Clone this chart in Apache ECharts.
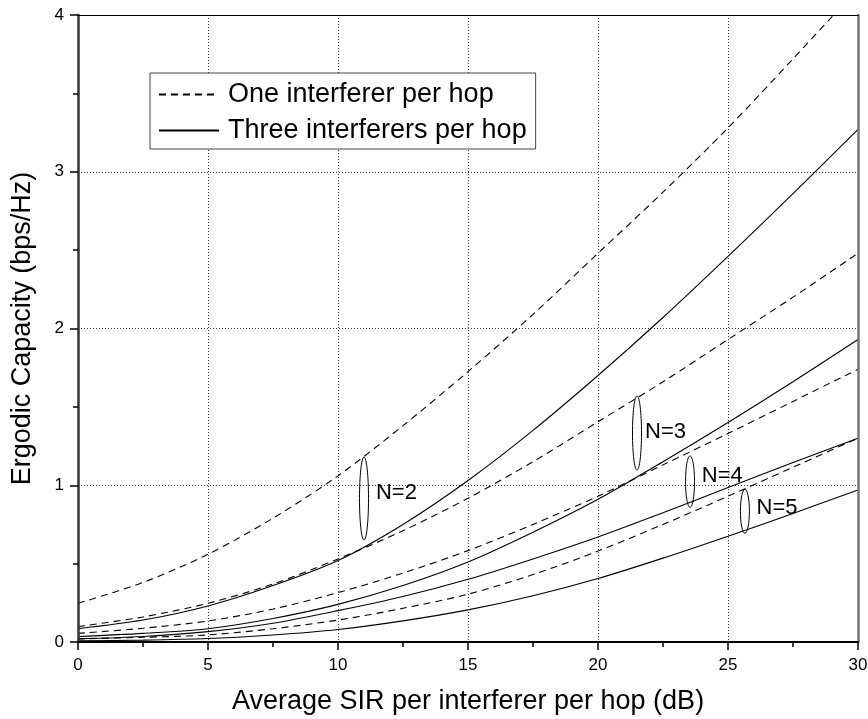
<!DOCTYPE html>
<html>
<head>
<meta charset="utf-8">
<script src="https://cdn.jsdelivr.net/npm/echarts@6/dist/echarts.min.js"></script>
<style>
  html, body { margin: 0; padding: 0; background: #fff; }
  #chart { width: 868px; height: 719px; }
</style>
</head>
<body>
<div id="chart"></div>
<script>
// Average SIR per interferer per hop (dB)
const sir = [0, 2.5, 5, 7.5, 10, 12.5, 15, 17.5, 20, 22.5, 25, 27.5, 30];

// Ergodic capacity (bps/Hz), one interferer per hop, N = 2..5 hops
const oneN2 = [0.247, 0.38, 0.56, 0.79, 1.06, 1.38, 1.725, 2.09, 2.48, 2.87, 3.28, 3.72, 4.17];
const oneN3 = [0.098, 0.16, 0.247, 0.37, 0.53, 0.71, 0.917, 1.15, 1.405, 1.66, 1.93, 2.2, 2.48];
const oneN4 = [0.055, 0.088, 0.134, 0.21, 0.315, 0.44, 0.583, 0.75, 0.93, 1.13, 1.33, 1.535, 1.74];
const oneN5 = [0.02, 0.03, 0.045, 0.085, 0.14, 0.215, 0.305, 0.43, 0.58, 0.75, 0.93, 1.115, 1.30];

// Ergodic capacity (bps/Hz), three interferers per hop, N = 2..5 hops
const threeN2 = [0.085, 0.14, 0.23, 0.36, 0.52, 0.75, 1.03, 1.35, 1.70, 2.07, 2.46, 2.86, 3.27];
const threeN3 = [0.035, 0.055, 0.085, 0.15, 0.24, 0.36, 0.51, 0.70, 0.91, 1.15, 1.40, 1.66, 1.93];
const threeN4 = [0.02, 0.035, 0.066, 0.12, 0.20, 0.29, 0.40, 0.53, 0.67, 0.825, 0.985, 1.145, 1.30];
const threeN5 = [0.008, 0.012, 0.022, 0.045, 0.08, 0.135, 0.205, 0.295, 0.405, 0.535, 0.675, 0.82, 0.97];

// Hop-count callouts: ring at SIR ringX spanning the two curves of each N
const ringNames = ['N=2', 'N=3', 'N=4', 'N=5'];
const ringX = [11, 21.5, 23.54, 25.65];
const ringTop = [1.18, 1.57, 1.187, 0.974];
const ringBottom = [0.65, 1.097, 0.859, 0.694];
const ringTextX = [11.46, 21.81, 23.99, 26.1];
const ringTextY = [0.95, 1.34, 1.062, 0.855];

// Axis ticks
const xTicks = { min: 0, max: 30, step: 5 };
const yTicks = { min: 0, max: 4, step: 1 };

const ONE = 'One interferer per hop';
const THREE = 'Three interferers per hop';
const FONT = '"Liberation Sans", Arial, Helvetica, sans-serif';

const pair = ys => sir.map((x, i) => [x, ys[i]]);

function curve(name, ys, dashed) {
  return {
    name: name,
    type: 'line',
    data: pair(ys),
    symbol: 'none',
    smooth: 0.3,
    clip: true,
    silent: true,
    lineStyle: { color: '#000', width: 1.1, type: dashed ? [7, 5] : 'solid' },
    itemStyle: { color: '#000' },
    z: 3
  };
}

const chart = echarts.init(document.getElementById('chart'), null, { renderer: 'canvas' });

chart.setOption({
  animation: false,
  backgroundColor: '#fff',
  textStyle: { fontFamily: FONT, color: '#000' },
  grid: { left: 78, right: 10, top: 15, bottom: 77, containLabel: false, outerBoundsMode: 'none' },
  legend: {
    data: [ONE, THREE],
    orient: 'vertical',
    left: 150,
    top: 73,
    padding: [8, 9, 5, 8],
    itemGap: 9,
    itemWidth: 60,
    itemHeight: 14,
    selectedMode: false,
    borderColor: '#444',
    borderWidth: 1,
    backgroundColor: '#fff',
    itemStyle: { color: 'transparent', borderColor: 'transparent', borderWidth: 0, opacity: 0 },
    textStyle: { fontSize: 27, color: '#000', fontFamily: FONT, padding: [0, 0, 0, 4] },
    z: 10
  },
  xAxis: [
    {
      type: 'value',
      gridIndex: 0,
      position: 'bottom',
      min: xTicks.min, max: xTicks.max, interval: xTicks.step,
      name: 'Average SIR per interferer per hop (dB)',
      nameLocation: 'middle',
      nameGap: 46,
      nameTextStyle: { fontSize: 27, color: '#000', fontFamily: FONT },
      axisLine: { onZero: false, lineStyle: { color: '#000', width: 2 } },
      axisTick: { show: true, length: 8, lineStyle: { color: '#000', width: 1.5 } },
      minorTick: { show: true, splitNumber: 2, length: 5, lineStyle: { color: '#000', width: 1.5 } },
      axisLabel: { show: true, margin: 15, fontSize: 17, color: '#000', fontFamily: FONT },
      splitLine: { show: true, lineStyle: { color: '#333', width: 1, type: [1, 2] } },
      z: 5
    },
    {
      type: 'value',
      gridIndex: 0,
      position: 'top',
      min: xTicks.min, max: xTicks.max,
      axisLine: { show: true, onZero: false, lineStyle: { color: '#000', width: 1.2 } },
      axisTick: { show: false },
      axisLabel: { show: false },
      splitLine: { show: false },
      z: 5
    }
  ],
  yAxis: [
    {
      type: 'value',
      gridIndex: 0,
      position: 'left',
      min: yTicks.min, max: yTicks.max, interval: yTicks.step,
      name: 'Ergodic Capacity (bps/Hz)',
      nameLocation: 'middle',
      nameRotate: 90,
      nameGap: 42,
      nameTextStyle: { fontSize: 27, color: '#000', fontFamily: FONT },
      axisLine: { onZero: false, lineStyle: { color: '#333', width: 2.5 } },
      axisTick: { show: true, length: 8, lineStyle: { color: '#000', width: 1.5 } },
      minorTick: { show: true, splitNumber: 2, length: 5, lineStyle: { color: '#000', width: 1.5 } },
      axisLabel: { show: true, margin: 14, fontSize: 17, color: '#000', fontFamily: FONT },
      splitLine: { show: true, lineStyle: { color: '#333', width: 1, type: [1, 2] } },
      z: 5
    },
    {
      type: 'value',
      gridIndex: 0,
      position: 'right',
      min: yTicks.min, max: yTicks.max,
      axisLine: { show: true, onZero: false, lineStyle: { color: '#777', width: 2.5 } },
      axisTick: { show: false },
      axisLabel: { show: false },
      splitLine: { show: false },
      z: 5
    }
  ],
  series: [
    curve(ONE, oneN2, true),
    curve(ONE, oneN3, true),
    curve(ONE, oneN4, true),
    curve(ONE, oneN5, true),
    curve(THREE, threeN2, false),
    curve(THREE, threeN3, false),
    curve(THREE, threeN4, false),
    curve(THREE, threeN5, false),
    {
      name: 'callouts',
      type: 'custom',
      silent: true,
      z: 6,
      data: ringX.map((x, i) => [x, ringTop[i], ringBottom[i], ringTextX[i], ringTextY[i]]),
      renderItem: function (params, api) {
        const top = api.coord([api.value(0), api.value(1)]);
        const bottom = api.coord([api.value(0), api.value(2)]);
        const textPos = api.coord([api.value(3), api.value(4)]);
        return {
          type: 'group',
          children: [
            {
              type: 'ellipse',
              shape: { cx: top[0], cy: (top[1] + bottom[1]) / 2, rx: 4.5, ry: (bottom[1] - top[1]) / 2 },
              style: { fill: null, stroke: '#000', lineWidth: 1 }
            },
            {
              type: 'text',
              x: textPos[0],
              y: textPos[1],
              style: {
                text: ringNames[params.dataIndex],
                fill: '#000',
                font: '22px ' + FONT,
                align: 'left',
                verticalAlign: 'middle'
              }
            }
          ]
        };
      }
    }
  ]
});
</script>
</body>
</html>
